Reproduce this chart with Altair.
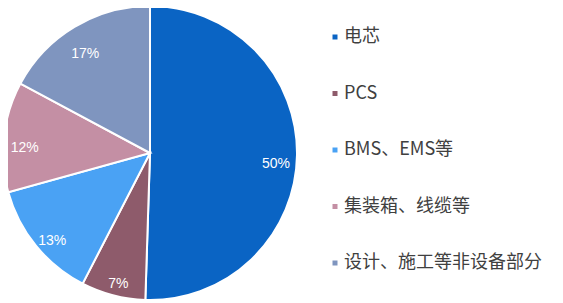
import altair as alt
import pandas as pd

categories = ["电芯", "PCS", "BMS、EMS等", "集装箱、线缆等", "设计、施工等非设备部分"]
shares = [50, 7, 13, 12, 17]
colors = ["#0A64C4", "#8E5B6B", "#4AA2F4", "#C48FA4", "#7F95BF"]

df = pd.DataFrame({
    "cat": categories,
    "value": shares,
    "idx": list(range(len(categories))),
    "label": [f"{v}%" for v in shares],
})

color_scale = alt.Scale(domain=categories, range=colors)

base = alt.Chart(df).encode(
    theta=alt.Theta("value:Q", stack=True),
    order=alt.Order("idx:Q"),
)

arcs = base.mark_arc(outerRadius=147, stroke="white", strokeWidth=2).encode(
    x=alt.value(142),
    y=alt.value(145),
    color=alt.Color(
        "cat:N",
        scale=color_scale,
        sort=categories,
        legend=alt.Legend(
            title=None,
            orient="none",
            legendX=318,
            legendY=20,
            symbolType="square",
            symbolSize=25,
            symbolStrokeWidth=0,
            labelFontSize=18,
            labelFont="Noto Sans CJK SC",
            labelColor="#404040",
            rowPadding=38.5,
            labelOffset=0,
            labelLimit=300,
        ),
    ),
)

texts = base.mark_text(
    radius=126, dy=9, fontSize=14, font="Liberation Sans", color="white"
).encode(
    x=alt.value(142),
    y=alt.value(145),
    text="label:N",
)

chart = alt.layer(arcs, texts).properties(
    width=547, height=294, autosize=alt.AutoSizeParams(type="none"), padding=0
).configure_view(stroke=None)

chart.save("out.html", embed_options={"renderer": "svg", "actions": False})
